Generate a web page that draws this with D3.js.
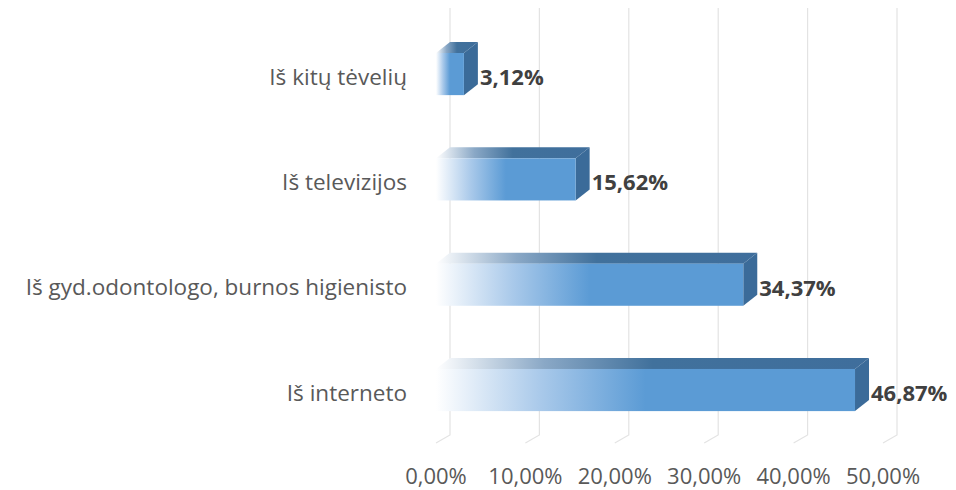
<!DOCTYPE html>
<html>
<head>
<meta charset="utf-8">
<script src="https://cdn.jsdelivr.net/npm/d3@7"></script>
<style>
  body { margin: 0; background: #fff; }
  text { font-family: "Open Sans", Lato, sans-serif; }
</style>
</head>
<body>
<div id="chart"></div>
<script>
// survey answers: where the children learned about tooth care
const categories = ["Iš kitų tėvelių", "Iš televizijos", "Iš gyd.odontologo, burnos higienisto", "Iš interneto"]
const values = [3.12, 15.62, 34.37, 46.87]
const ticks = [0, 10, 20, 30, 40, 50]

const width = 956, height = 490
const depthX = 14, depthY = 11   // 3d offset of the bars
const fmt = v => d3.format(".2f")(v).replace(".", ",") + "%"

const svg = d3.select("#chart").append("svg")
  .attr("width", width)
  .attr("height", height)

const x = d3.scaleLinear().domain([0, 50]).range([436, 883])
const y = d3.scaleBand().domain(categories).range([21.4, 442.7])
  .paddingInner(0.6).paddingOuter(0.3)

const defs = svg.append("defs")
// front face fades in from white
const gFront = defs.append("linearGradient").attr("id", "front")
gFront.append("stop").attr("offset", "0%").attr("stop-color", "#ffffff")
gFront.append("stop").attr("offset", "25%").attr("stop-color", "#a9c9ea")
gFront.append("stop").attr("offset", "50%").attr("stop-color", "#5b9bd5")
gFront.append("stop").attr("offset", "100%").attr("stop-color", "#5b9bd5")
const gTop = defs.append("linearGradient").attr("id", "top")
gTop.append("stop").attr("offset", "0%").attr("stop-color", "#ffffff")
gTop.append("stop").attr("offset", "25%").attr("stop-color", "#8aa8c6")
gTop.append("stop").attr("offset", "50%").attr("stop-color", "#41719c")
gTop.append("stop").attr("offset", "100%").attr("stop-color", "#3f6e9c")

// back wall gridlines + floor lines
const floorY = 435
svg.append("g").selectAll("path").data(ticks).join("path")
  .attr("fill", "none")
  .attr("stroke", "#e3e3e3")
  .attr("stroke-width", 1.2)
  .attr("d", d => `M${x(d) + depthX},8 L${x(d) + depthX},${floorY} L${x(d)},${floorY + 8}`)

// tick labels
svg.append("g").selectAll("text").data(ticks).join("text")
  .attr("x", d => x(d))
  .attr("y", 475)
  .attr("text-anchor", "middle")
  .attr("dominant-baseline", "central")
  .attr("font-size", 22)
  .attr("fill", "#595959")
  .text(d => fmt(d))

// category labels
svg.append("g").selectAll("text").data(categories).join("text")
  .attr("x", 407)
  .attr("y", d => y(d) + y.bandwidth() / 2 + 2)
  .attr("text-anchor", "end")
  .attr("dominant-baseline", "central")
  .attr("font-size", 22.5)
  .attr("fill", "#595959")
  .text(d => d)

const bars = svg.append("g").selectAll("g").data(categories).join("g")

// top face
bars.append("path")
  .attr("fill", "url(#top)")
  .attr("d", (d, i) => {
    const x0 = x(0), x1 = x(values[i]), t = y(d)
    return `M${x0},${t} L${x0 + depthX},${t - depthY} L${x1 + depthX},${t - depthY} L${x1},${t} Z`
  })
// right side
bars.append("path")
  .attr("fill", "#3b6b99")
  .attr("d", (d, i) => {
    const x1 = x(values[i]), t = y(d), b = y(d) + y.bandwidth()
    return `M${x1},${t} L${x1 + depthX},${t - depthY} L${x1 + depthX},${b - depthY} L${x1},${b} Z`
  })
// front face
bars.append("rect")
  .attr("x", x(0))
  .attr("y", d => y(d))
  .attr("width", (d, i) => x(values[i]) - x(0))
  .attr("height", y.bandwidth())
  .attr("fill", "url(#front)")

// value labels
bars.append("text")
  .attr("x", (d, i) => x(values[i]) + depthX + 2)
  .attr("y", d => y(d) + y.bandwidth() / 2 + 2)
  .attr("dominant-baseline", "central")
  .attr("font-size", 22)
  .attr("font-weight", "bold")
  .attr("fill", "#404040")
  .text((d, i) => fmt(values[i]))
</script>
</body>
</html>
